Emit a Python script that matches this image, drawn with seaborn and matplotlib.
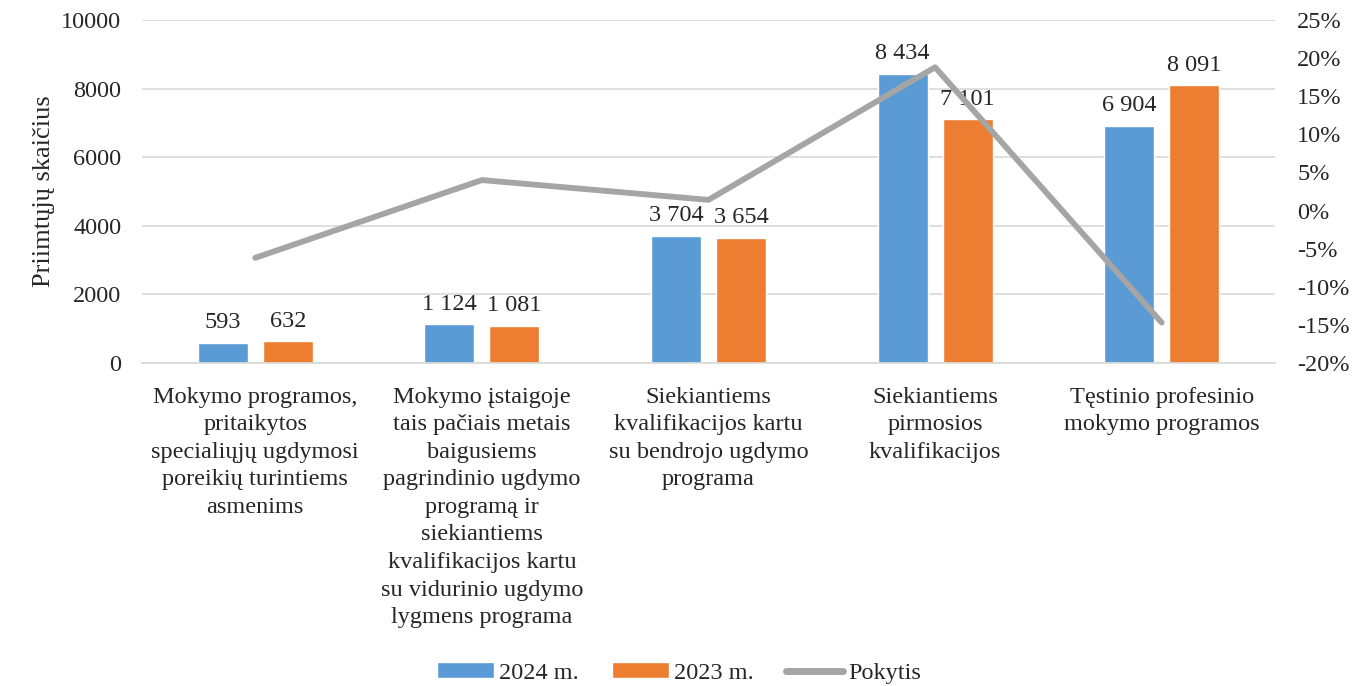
import matplotlib
matplotlib.use("Agg")
import matplotlib.pyplot as plt
import numpy as np
import pandas as pd
import seaborn as sns
from matplotlib.patches import Patch
from matplotlib.lines import Line2D
from matplotlib.ticker import FuncFormatter

CATEGORIES = [
    "Mokymo programos,\npritaikytos\nspecialiųjų ugdymosi\nporeikių turintiems\nasmenims",
    "Mokymo įstaigoje\ntais pačiais metais\nbaigusiems\npagrindinio ugdymo\nprogramą ir\nsiekiantiems\nkvalifikacijos kartu\nsu vidurinio ugdymo\nlygmens programa",
    "Siekiantiems\nkvalifikacijos kartu\nsu bendrojo ugdymo\nprograma",
    "Siekiantiems\npirmosios\nkvalifikacijos",
    "Tęstinio profesinio\nmokymo programos",
]
VALUES_2024 = [593, 1124, 3704, 8434, 6904]
VALUES_2023 = [632, 1081, 3654, 7101, 8091]
CHANGE_PCT = [-6.2, 4.0, 1.4, 18.8, -14.7]
SERIES = ["2024 m.", "2023 m."]
COLORS = ["#5B9BD5", "#ED7D31"]
LINE_COLOR = "#A5A5A5"

sns.set_theme(style="white")
plt.rcParams["font.family"] = ["Liberation Serif", "DejaVu Serif"]

FS = 17.5

df = pd.DataFrame({
    "cat": CATEGORIES * 2,
    "series": [SERIES[0]] * 5 + [SERIES[1]] * 5,
    "value": VALUES_2024 + VALUES_2023,
})

fig = plt.figure(figsize=(13.58, 6.86), dpi=100)
ax = fig.add_axes([142 / 1358, 1 - 363 / 686, (1275 - 142) / 1358, (363 - 20) / 686])

sns.barplot(data=df, x="cat", y="value", hue="series", palette=COLORS,
            width=0.574, gap=0.23, ax=ax, legend=False, saturation=1)

ax.set_ylim(0, 10000)
ax.set_yticks(np.arange(0, 10001, 2000))
ax.yaxis.grid(True, color="#D9D9D9", linewidth=1.2)
ax.set_axisbelow(True)
for s in ["top", "right", "left"]:
    ax.spines[s].set_visible(False)
ax.spines["bottom"].set_color("#D9D9D9")
ax.tick_params(axis="y", labelsize=FS, length=0, pad=15)
ax.tick_params(axis="x", labelsize=FS, length=0, pad=17)
for t in ax.get_xticklabels():
    t.set_linespacing(1.41)
ax.set_xlabel("")
ax.set_ylabel("Priimtųjų skaičius", fontsize=19, labelpad=4)
ax.set_xlim(-0.5, 4.5)

def fmt_thousands(v):
    return f"{int(v):,}".replace(",", " ")

for cont in ax.containers:
    labels = [fmt_thousands(b.get_height()) for b in cont]
    ax.bar_label(cont, labels=labels, padding=7, fontsize=FS)

ax2 = ax.twinx()
sns.lineplot(x=list(range(len(CATEGORIES))), y=CHANGE_PCT, color=LINE_COLOR,
             linewidth=4.2, ax=ax2, legend=False)
ax2.set_ylim(-20, 25)
ax2.set_yticks(np.arange(-20, 26, 5))
ax2.yaxis.set_major_formatter(FuncFormatter(lambda v, p: f"{int(v)}%"))
ax2.tick_params(axis="y", labelsize=FS, length=0, pad=16)
for s in ax2.spines.values():
    s.set_visible(False)
ax2.grid(False)
ax.set_xlim(-0.5, 4.5)

handles = [
    Patch(facecolor=COLORS[0], label=SERIES[0]),
    Patch(facecolor=COLORS[1], label=SERIES[1]),
    Line2D([0], [0], color=LINE_COLOR, linewidth=5, label="Pokytis"),
]
fig.legend(handles=handles, loc="center", bbox_to_anchor=(0.5, 1 - 673 / 686),
           ncol=3, frameon=False, fontsize=FS, handlelength=2.35,
           handleheight=0.6, handletextpad=0.2, columnspacing=1.35)

fig.savefig("out.png", dpi=100)
